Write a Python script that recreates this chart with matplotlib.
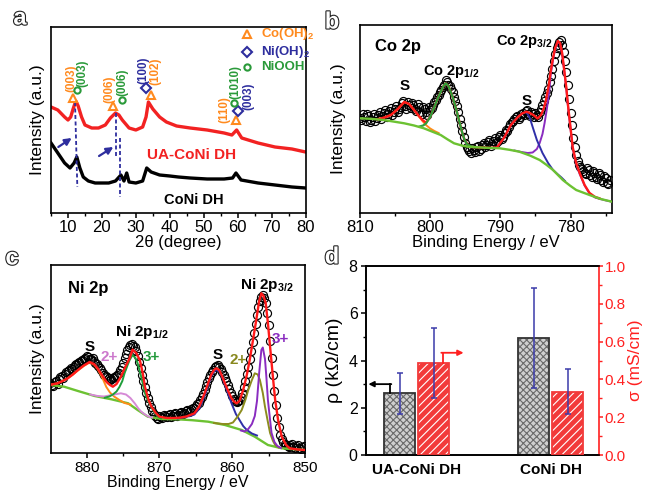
import matplotlib
matplotlib.use('Agg')
import matplotlib.pyplot as plt
import matplotlib.patheffects as pe
from matplotlib.ticker import MultipleLocator, FormatStrFormatter

plt.rcParams['font.family'] = ['Liberation Sans', 'DejaVu Sans']
plt.rcParams['mathtext.fontset'] = 'custom'
plt.rcParams['mathtext.rm'] = 'Liberation Sans'
plt.rcParams['mathtext.bf'] = 'Liberation Sans:bold'
plt.rcParams['mathtext.default'] = 'bf'
plt.rcParams['hatch.linewidth'] = 0.8

# ---------------- (a) XRD ----------------
xrd_ua_2theta = [5, 7, 9, 10, 10.8, 11.5, 12.3, 13, 14, 15, 17, 19, 21, 22.5, 24, 25, 26, 28, 30,
                 32, 33, 33.7, 35, 37, 39, 42, 46, 51, 56, 58.3, 59.7, 61.2, 66, 71, 76, 80]
xrd_ua_int = [106, 103, 96, 93, 96, 104, 112, 107, 96, 88, 85, 85, 88, 95, 100, 98, 93, 85, 83,
              86, 96, 111, 104, 96, 91, 87, 85, 83, 80, 78, 83, 75, 70, 66, 64, 61]
xrd_co_2theta = [5, 7, 9, 10.6, 11.8, 12.6, 13.5, 14.5, 16, 18, 20, 22, 24, 25.6, 26.5, 27.3, 28,
                 30, 32, 33.2, 34.5, 37, 40, 42.5, 46, 51, 56, 58.5, 59.5, 61, 66, 71, 76, 80]
xrd_co_int = [70, 60, 50, 45, 50, 56, 45, 36, 32, 30, 30, 30, 32, 38, 32, 40, 31,
              30, 32, 45, 41, 38, 37, 36, 35, 34, 34, 35, 40, 33, 30, 28, 26, 25]
coOH_x = [11.4, 23.2, 34.5, 59.5]
coOH_y = [115.3, 107, 117.7, 93]
niOH_x = [32.9, 60.2]
niOH_y = [124.7, 102.3]
niooh_x = [12.75, 26.0, 59.0]
niooh_y = [123, 113, 109.7]
hkl_labels = ['(003)', '(003)', '(006)', '(006)', '(100)', '(102)', '(110)', '(1010)', '(003)']
hkl_phase = ['co', 'ni2', 'co', 'ni2', 'ni', 'co', 'co', 'ni2', 'ni']

# ---------------- (b) Co 2p ----------------
b_data_E = [810.0, 809.6, 809.2, 808.8, 808.4, 808.0, 807.6, 807.2, 806.8, 806.4, 806.0, 805.6, 805.2,
            804.8, 804.4, 804.0, 803.6, 803.2, 802.8, 802.4, 802.0, 801.6, 801.2, 800.8, 800.4, 800.0,
            799.6, 799.2, 798.8, 798.4, 798.0, 797.6, 797.2, 796.8, 796.4, 796.0, 795.6, 795.2, 794.8,
            794.4, 794.0, 793.6, 793.2, 792.8, 792.4, 792.0, 791.6, 791.2, 790.8, 790.4, 790.0, 789.6,
            789.2, 788.8, 788.4, 788.0, 787.6, 787.2, 786.8, 786.4, 786.0, 785.6, 785.2, 784.8, 784.4,
            784.0, 783.6, 783.2, 782.8, 782.4, 782.0, 781.6, 781.2, 780.8, 780.4, 780.0, 779.6, 779.2,
            778.8, 778.4, 778.0, 777.6, 777.2, 776.8, 776.4, 776.0, 775.6, 775.2, 774.8, 774.4]
b_data_I = [95, 99, 92, 97, 93, 99, 95, 101, 97, 103, 99, 105, 101,
            107, 104, 110, 107, 111, 105, 108, 102, 106, 99, 104, 98, 103,
            108, 113, 118, 123, 128, 131, 127, 121, 112, 101, 88, 76, 66,
            62, 65, 61, 67, 64, 70, 68, 73, 69, 75, 72, 78, 76,
            83, 86, 91, 94, 97, 96, 100, 102, 99, 101, 96, 98, 101,
            108, 116, 124, 137, 152, 165, 171, 168, 152, 128, 100, 75, 58,
            48, 44, 40, 45, 38, 42, 36, 40, 33, 37, 30, 33]
b_data2_E = [809.8, 809.4, 809.0, 808.6, 808.2, 807.8, 807.4, 807.0, 806.6, 806.2, 805.8, 805.4, 805.0,
             804.6, 804.2, 803.8, 803.4, 803.0, 802.6, 802.2, 801.8, 801.4, 801.0, 800.6, 800.2, 799.8,
             799.4, 799.0, 798.6, 798.2, 797.8, 797.4, 797.0, 796.6, 796.2, 795.8, 795.4, 795.0, 794.6,
             794.2, 793.8, 793.4, 793.0, 792.6, 792.2, 791.8, 791.4, 791.0, 790.6, 790.2, 789.8, 789.4,
             789.0, 788.6, 788.2, 787.8, 787.4, 787.0, 786.6, 786.2, 785.8, 785.4, 785.0, 784.6, 784.2,
             783.8, 783.4, 783.0, 782.6, 782.2, 781.8, 781.4, 781.0, 780.6, 780.2, 779.8, 779.4, 779.0,
             778.6, 778.2, 777.8, 777.4, 777.0, 776.6, 776.2, 775.8, 775.4, 775.0, 774.6]
b_data2_I = [93, 96, 99, 91, 96, 92, 98, 94, 100, 96, 102, 98, 104,
             101, 106, 112, 104, 108, 110, 104, 109, 101, 106, 101, 106, 105,
             111, 116, 121, 126, 133, 128, 124, 116, 107, 94, 82, 70, 64,
             60, 63, 66, 62, 68, 66, 71, 67, 72, 70, 76, 74, 80,
             82, 89, 92, 96, 94, 99, 98, 103, 97, 99, 100, 96, 104,
             112, 120, 131, 144, 159, 168, 173, 161, 141, 114, 88, 66, 52,
             46, 42, 39, 43, 36, 40, 34, 38, 31, 35, 29]
b_bg_E = [810, 808.5, 806.6, 803.7, 802.3, 800.9, 798.5, 797.5, 796.6, 795.5, 794.7, 792.3, 790.1,
          788.7, 787.3, 785.8, 784.4, 783.4, 782.5, 781.1, 780.1, 779.2, 777.3, 775.7, 774.1]
b_bg_I = [94.7, 94.2, 93, 89.7, 87.5, 84.7, 78, 73.5, 69.7, 67.5, 66.3, 65.3, 64.7,
          63.2, 61.3, 57.5, 53, 48, 43, 33, 27.5, 23, 18, 14, 11.3]
b_env_E = [807.5, 806.5, 805.6, 804.6, 803.7, 803.0, 802.3, 801.6, 801.1, 800.6, 800.0, 799.4, 798.9,
           798.5, 798.1, 797.8, 797.4, 796.8, 796.3, 795.9, 795.5, 795.1, 794.4, 793.5, 792.5, 791.5,
           790.5, 789.5, 788.5, 787.5, 786.9, 786.3, 785.8, 785.3, 784.7, 784.2, 783.8, 783.5, 783.1,
           782.8, 782.5, 782.2, 781.8, 781.5, 781.2, 780.9, 780.6, 780.4, 780.0, 779.7, 779.2, 778.7,
           778.0, 777.3, 776.5, 775.9]
b_env_I = [93.8, 95.5, 98, 104, 111, 109, 103, 97, 93, 90.3, 96, 106, 115,
           121, 127, 129.7, 127, 116, 104, 93, 82, 73, 66.2, 65.8, 65.4, 65.1,
           65.5, 75, 88, 96, 99.5, 101.3, 100, 98, 94.5, 98, 105, 113, 128,
           143, 155, 165, 172, 170, 160, 143, 125, 110, 85, 66, 50, 40,
           28, 20, 16, 14.7]
b_s1_E = [807.5, 806.5, 805.6, 804.6, 803.7, 803.0, 802.3, 801.6, 801.1, 800.6, 800.0, 799.4, 798.8]
b_s1_I = [93.8, 95.5, 98, 104, 111, 109, 103, 96.5, 92, 88, 84.5, 82, 80]
b_p12_E = [801.5, 801.0, 800.6, 800.0, 799.4, 798.9, 798.5, 798.1, 797.8, 797.4, 796.8, 796.3, 795.9,
           795.5, 795.1, 794.7, 794.2, 793.5]
b_p12_I = [86.5, 87.5, 89.5, 96, 106, 115, 121, 127, 129.7, 127, 116, 104, 93,
           82, 73, 68.5, 66.5, 65.8]
b_s2_E = [791, 790.5, 789.5, 788.5, 787.5, 786.9, 786.3, 785.8, 785.4, 784.8, 784.0, 783.2, 782.5,
          781.8, 781.3, 780.8]
b_s2_I = [65, 65.5, 75, 88, 96, 99.5, 101, 95, 86, 73, 60, 50, 43, 38.5, 35.5, 32]
b_p32_E = [788, 787, 786.1, 785.4, 784.8, 784.4, 784.0, 783.7, 783.4, 783.2, 783.0, 782.8, 782.5,
           782.2, 781.8, 781.5, 781.2, 780.9, 780.6, 780.4, 780.0, 779.7, 779.2, 778.7, 778.0, 777.3,
           776.5, 775.9, 775.0, 774.1]
b_p32_I = [62.5, 61, 60, 60.5, 64, 70, 79, 90, 103, 113, 124, 140, 153,
           164, 171.5, 169, 159, 142, 124, 109, 84, 65, 49, 39, 27.5, 19.5,
           15.5, 14.2, 12.6, 11.2]

# ---------------- (c) Ni 2p ----------------
c_data_E = [885.0, 884.6, 884.2, 883.8, 883.4, 883.0, 882.6, 882.2, 881.8, 881.4, 881.0, 880.6, 880.2,
            879.8, 879.4, 879.0, 878.6, 878.2, 877.8, 877.4, 877.0, 876.6, 876.2, 875.8, 875.4, 875.0,
            874.6, 874.2, 873.8, 873.4, 873.0, 872.6, 872.2, 871.8, 871.4, 871.0, 870.6, 870.2, 869.8,
            869.4, 869.0, 868.6, 868.2, 867.8, 867.4, 867.0, 866.6, 866.2, 865.8, 865.4, 865.0, 864.6,
            864.2, 863.8, 863.4, 863.0, 862.6, 862.2, 861.8, 861.4, 861.0, 860.6, 860.2, 859.8, 859.4,
            859.0, 858.6, 858.2, 857.8, 857.4, 857.0, 856.6, 856.2, 855.8, 855.4, 855.0, 854.6, 854.2,
            853.8, 853.4, 853.0, 852.6, 852.2, 851.8, 851.4, 851.0, 850.6, 850.2]
c_data_I = [70, 67, 72, 74, 77, 79, 82, 85, 86, 89, 91, 93, 95,
            96, 94, 92, 89, 85, 80, 77, 75, 74, 76, 78, 83, 90,
            99, 106, 109, 106, 97, 85, 72, 60, 50, 42, 37, 34, 36,
            38, 36, 39, 37, 40, 38, 41, 40, 43, 42, 45, 47, 50,
            56, 63, 71, 78, 83, 87, 86, 81, 75, 68, 60, 54, 51,
            53, 60, 72, 86, 102, 120, 138, 152, 158, 150, 128, 95, 62,
            35, 18, 11, 8, 6, 9, 5, 8, 4, 7]
c_data2_E = [884.8, 884.4, 884.0, 883.6, 883.2, 882.8, 882.4, 882.0, 881.6, 881.2, 880.8, 880.4, 880.0,
             879.6, 879.2, 878.8, 878.4, 878.0, 877.6, 877.2, 876.8, 876.4, 876.0, 875.6, 875.2, 874.8,
             874.4, 874.0, 873.6, 873.2, 872.8, 872.4, 872.0, 871.6, 871.2, 870.8, 870.4, 870.0, 869.6,
             869.2, 868.8, 868.4, 868.0, 867.6, 867.2, 866.8, 866.4, 866.0, 865.6, 865.2, 864.8, 864.4,
             864.0, 863.6, 863.2, 862.8, 862.4, 862.0, 861.6, 861.2, 860.8, 860.4, 860.0, 859.6, 859.2,
             858.8, 858.4, 858.0, 857.6, 857.2, 856.8, 856.4, 856.0, 855.6, 855.2, 854.8, 854.4, 854.0,
             853.6, 853.2, 852.8, 852.4, 852.0, 851.6, 851.2, 850.8, 850.4]
c_data2_I = [68, 71, 69, 76, 75, 81, 83, 84, 88, 90, 92, 94, 97,
             94, 95, 90, 87, 83, 78, 76, 73, 75, 77, 80, 86, 95,
             103, 108, 107, 102, 91, 78, 66, 55, 46, 39, 35, 37, 35,
             37, 38, 36, 39, 37, 40, 39, 42, 41, 44, 45, 49, 53,
             59, 67, 75, 81, 86, 88, 84, 78, 72, 64, 57, 52, 52,
             56, 66, 79, 94, 111, 129, 146, 156, 155, 140, 112, 78, 48,
             26, 14, 9, 7, 8, 6, 7, 5, 6]
c_bg_E = [885, 883.1, 881.2, 878.9, 876.6, 874.3, 873.0, 871.6, 869.7, 867.5, 865.5, 863.3, 861.0,
          858.7, 856.9, 855.1, 853.2, 850]
c_bg_I = [68, 66.3, 62, 57, 53.7, 49.7, 43, 36.3, 34, 33.7, 32.8, 31.3, 28,
          23, 16.3, 8, 4.7, 3]
c_env_E = [884.8, 884.0, 883.3, 882.6, 881.9, 881.2, 880.4, 879.6, 879.0, 878.5, 877.9, 877.3, 876.8,
           876.4, 875.9, 875.3, 874.7, 874.1, 873.7, 873.2, 872.7, 872.3, 872.0, 871.5, 871.1, 870.5,
           870.0, 869.0, 868.0, 867.2, 866.3, 865.2, 864.5, 863.8, 863.3, 862.9, 862.5, 862.2, 861.8,
           861.4, 861.0, 860.5, 860.1, 859.7, 859.4, 859.0, 858.5, 858.0, 857.6, 857.1, 856.7, 856.3,
           856.0, 855.7, 855.4, 855.1, 854.8, 854.4, 854.1, 853.7, 853.2, 852.6, 852.1, 851.0, 850.0]
c_env_I = [68.5, 69.7, 72, 74.7, 78.5, 83, 87.5, 91, 89, 84.7, 78, 71.3, 68,
           66.3, 69, 76.3, 86, 94.7, 103.5, 100, 93, 80, 66.3, 53, 46.3, 40,
           36.3, 35, 35, 35.3, 36.5, 39.7, 47, 59.7, 70, 78, 83, 84.7, 83,
           77, 69.7, 61, 54.7, 51, 49.7, 52, 63, 78, 93, 115, 133, 152,
           159.7, 157, 149.7, 130, 106.3, 75, 53, 33, 16.3, 8, 4.7, 3.5, 3]
c_s1_E = [884.8, 884.0, 883.3, 882.6, 881.9, 881.2, 880.4, 879.6, 879.0, 878.5, 877.9, 877.3, 876.8,
          876.2, 875.5, 874.8, 874.0]
c_s1_I = [68.5, 69.7, 72, 74.7, 78.5, 82.5, 87, 90.5, 88.5, 84, 76, 66, 60.5, 56.3, 53, 50, 48.5]
c_2p_E = [879.5, 878.5, 877.6, 876.9, 876.2, 875.3, 874.6, 874.0, 873.4, 872.9, 872.5, 872.0, 871.5, 871.0]
c_2p_I = [58.5, 57, 56.5, 57.5, 58.5, 59.7, 58.5, 55, 49.7, 44.5, 41.3, 38.5, 36.3, 35.5]
c_3p_E = [877.5, 876.9, 876.4, 875.9, 875.5, 875.1, 874.8, 874.4, 874.1, 873.7, 873.3, 873.0, 872.6,
          872.3, 872.0, 871.7, 871.4, 870.9, 870.4, 869.8]
c_3p_I = [55.3, 56.5, 58.5, 61.5, 66, 72, 79.7, 87.5, 93, 98, 95, 89.7, 79,
          69.7, 60, 54, 49.7, 43, 38, 34.5]
c_s2_E = [867.5, 866.5, 865.8, 865.2, 864.5, 863.8, 863.3, 862.9, 862.5, 862.2, 861.8, 861.4, 861.0,
          860.5, 860.1, 859.5, 859.0, 858.5, 858.0, 857.3, 856.6]
c_s2_I = [34.5, 36, 37, 38.5, 45, 57, 68, 76.5, 81.5, 83, 81.5, 76, 68, 58, 49.7, 39, 33, 27, 23, 19.5, 17.5]
c_2p32_E = [862.5, 861.3, 860.5, 859.9, 859.3, 858.7, 858.2, 857.8, 857.3, 856.9, 856.5, 856.2, 855.8,
            855.5, 855.1, 854.8, 854.4, 854.1, 853.6]
c_2p32_I = [30, 29, 29, 30.5, 36, 43, 53, 63, 73, 79.7, 78.5, 73, 60, 46.3, 31, 20, 12, 8, 5.5]
c_3p32_E = [858.8, 858.3, 857.8, 857.3, 856.9, 856.6, 856.3, 856.0, 855.8, 855.5, 855.3, 855.1, 854.8,
            854.6, 854.2, 853.8, 853.3]
c_3p32_I = [22.5, 21.5, 24, 29, 37, 52, 80, 103, 105.5, 94, 75, 53, 33, 20, 11, 7, 5]

# ---------------- (d) resistivity / conductivity ----------------
d_samples = ['UA-CoNi DH', 'CoNi DH']
rho = [2.61, 4.95]
rho_err = [0.88, 2.11]
sigma = [0.488, 0.335]
sigma_err = [0.185, 0.12]

# ---------------- styling ----------------
RED = '#f22222'
ORANGE = '#ff8a1e'
NAVY = '#2e2e9e'
GREEN = '#2a9a3a'
BGGREEN = '#6cc232'
PHASE_COLORS = {'co': ORANGE, 'ni': NAVY, 'ni2': GREEN}

fig = plt.figure(figsize=(6.45, 4.91), dpi=100)
axa = fig.add_axes([0.0791, 0.5662, 0.3946, 0.3788])
axb = fig.add_axes([0.5581, 0.5662, 0.3907, 0.3829])
axc = fig.add_axes([0.0791, 0.0774, 0.3938, 0.3829])
axd = fig.add_axes([0.5674, 0.0733, 0.3612, 0.3849])

for ax in (axa, axb, axc, axd):
    for s in ax.spines.values():
        s.set_linewidth(1.2)
    ax.tick_params(axis='both', which='major', direction='out', length=3.5, width=1.1, labelsize=12,
                   pad=1.5)
    ax.tick_params(axis='both', which='minor', direction='out', length=2.5, width=1)
axc.tick_params(axis='x', which='major', labelsize=11, pad=2.5)


def panel_letter(x, y, s):
    t = fig.text(x, y, s, fontsize=17, color='white', ha='center', va='center',
                 fontweight='bold')
    t.set_path_effects([pe.withStroke(linewidth=1.6, foreground='#222222')])


# ----- (a)
axa.plot(xrd_ua_2theta, xrd_ua_int, color=RED, lw=2.4, zorder=2)
axa.plot(xrd_co_2theta, xrd_co_int, color='black', lw=2.4, zorder=2)
axa.set_xlim(5, 80)
axa.set_ylim(0, 186)
axa.set_yticks([])
axa.xaxis.set_major_locator(MultipleLocator(10))
axa.xaxis.set_minor_locator(MultipleLocator(5))
axa.set_xlabel('2θ (degree)', fontsize=12, labelpad=0)
axa.set_ylabel('Intensity (a.u.)', fontsize=12.5, labelpad=4)

dash = (0, (2.2, 1.4))
axa.plot([12.07, 12.75], [111, 26], color=NAVY, lw=1.3, ls=dash, zorder=3)
axa.plot([24.16, 24.16], [100, 56], color=NAVY, lw=1.3, ls=dash, zorder=3)
axa.plot([25.4, 25.4], [75, 16], color=NAVY, lw=1.3, ls=dash, zorder=3)
for (x0, y0, x1, y1) in [(7.15, 66, 11.1, 75), (19.15, 57, 23.36, 66)]:
    axa.annotate('', xy=(x1, y1), xytext=(x0, y0),
                 arrowprops=dict(arrowstyle='-|>', color=NAVY, lw=1.6, mutation_scale=10,
                                 shrinkA=0, shrinkB=0))

mk = dict(ls='none', mfc='white', mew=1.5, ms=5.5, zorder=4)
axa.plot(coOH_x, coOH_y, marker='^', mec=ORANGE, **mk)
axa.plot(niOH_x, niOH_y, marker='D', mec=NAVY, **dict(mk, ms=4.8))
axa.plot(niooh_x, niooh_y, marker='o', mec=GREEN, **dict(mk, ms=4.5))

hkl_pos = [(10.9, 134.7), (14.1, 139.7), (22.3, 123.8), (26.1, 130.5), (32.3, 143),
           (35.75, 141.3), (56.2, 103), (59.3, 131.3), (63.1, 116.3)]
for lab, ph, (x, y) in zip(hkl_labels, hkl_phase, hkl_pos):
    axa.text(x, y, lab, rotation=90, ha='center', va='center', fontsize=8.4,
             fontweight='bold', color=PHASE_COLORS[ph])

leg = [('^', ORANGE, 'Co(OH)$_2$', 0.962, 5.5), ('D', NAVY, 'Ni(OH)$_2$', 0.867, 4.8),
       ('o', GREEN, 'NiOOH', 0.787, 4.5)]
for m, c, lab, yy, ms in leg:
    axa.plot([0.769], [yy], marker=m, mec=c, mfc='white', mew=1.5, ms=ms,
             transform=axa.transAxes, clip_on=False)
    axa.text(0.825, yy, lab, color=c, fontsize=9.5, fontweight='bold', va='center',
             ha='left', transform=axa.transAxes)
axa.text(46.5, 58, 'UA-CoNi DH', color=RED, fontsize=11, fontweight='bold', ha='center', va='center')
axa.text(47.1, 13, 'CoNi DH', color='black', fontsize=10.5, fontweight='bold', ha='center', va='center')

# ----- (b)
cm = dict(ls='none', marker='o', mfc='none', mec='black', ms=5.8, mew=0.85, zorder=1)
axb.plot(b_data_E, b_data_I, **cm)
axb.plot(b_data2_E, b_data2_I, **cm)
axb.plot(b_p32_E, b_p32_I, color='#8a2cc0', lw=1.4, zorder=2)
axb.plot(b_s2_E, b_s2_I, color='#2f2fa8', lw=1.4, zorder=2)
axb.plot(b_s1_E, b_s1_I, color='#ff8c1a', lw=1.4, zorder=2)
axb.plot(b_env_E, b_env_I, color='#ff1a1a', lw=1.7, zorder=3)
axb.plot(b_p12_E, b_p12_I, color='#2f9e3a', lw=1.6, zorder=4)
axb.plot(b_bg_E, b_bg_I, color=BGGREEN, lw=1.7, zorder=5)
axb.set_xlim(810, 774.1)
axb.set_ylim(0, 188)
axb.set_yticks([])
axb.set_xticks([810, 800, 790, 780])
axb.xaxis.set_minor_locator(MultipleLocator(5))
axb.set_xlabel('Binding Energy / eV', fontsize=12, labelpad=0)
axb.set_ylabel('Intensity (a.u.)', fontsize=12.5, labelpad=10)
axb.text(0.06, 0.885, 'Co 2p', transform=axb.transAxes, fontsize=12, fontweight='bold',
         ha='left', va='center')
axb.text(803.7, 127, 'S', fontsize=11, fontweight='bold', ha='center', va='center')
axb.text(797.0, 141.3, 'Co 2p$_{1/2}$', fontsize=10.5, fontweight='bold', ha='center', va='center')
axb.text(786.3, 112, 'S', fontsize=11, fontweight='bold', ha='center', va='center')
axb.text(786.6, 171.3, 'Co 2p$_{3/2}$', fontsize=10.5, fontweight='bold', ha='center', va='center')

# ----- (c)
axc.plot(c_data_E, c_data_I, **cm)
axc.plot(c_data2_E, c_data2_I, **cm)
axc.plot(c_bg_E, c_bg_I, color=BGGREEN, lw=1.7, zorder=2)
axc.plot(c_s1_E, c_s1_I, color='#ff8c1a', lw=1.4, zorder=3)
axc.plot(c_2p_E, c_2p_I, color='#d68ad6', lw=1.4, zorder=3)
axc.plot(c_3p_E, c_3p_I, color='#1f9e3a', lw=1.4, zorder=3)
axc.plot(c_s2_E, c_s2_I, color='#2f2fa8', lw=1.4, zorder=3)
axc.plot(c_2p32_E, c_2p32_I, color='#8c8c1e', lw=1.4, zorder=3)
axc.plot(c_3p32_E, c_3p32_I, color='#8a2cc0', lw=1.4, zorder=3)
axc.plot(c_env_E, c_env_I, color='#ff1a1a', lw=1.7, zorder=4)
axc.set_xlim(884.9, 850)
axc.set_ylim(0, 188)
axc.set_yticks([])
axc.set_xticks([880, 870, 860, 850])
axc.xaxis.set_minor_locator(MultipleLocator(5))
axc.set_xlabel('Binding Energy / eV', fontsize=11.5, labelpad=0)
axc.set_ylabel('Intensity (a.u.)', fontsize=12.5, labelpad=4)
axc.text(0.068, 0.876, 'Ni 2p', transform=axc.transAxes, fontsize=12, fontweight='bold',
         ha='left', va='center')
axc.text(879.6, 105.7, 'S', fontsize=11, fontweight='bold', ha='center', va='center')
axc.text(876.9, 96.3, '2+', fontsize=11, fontweight='bold', ha='center', va='center', color='#cc77cc')
axc.text(872.4, 121.3, 'Ni 2p$_{1/2}$', fontsize=11, fontweight='bold', ha='center', va='center')
axc.text(871.1, 95.7, '3+', fontsize=11, fontweight='bold', ha='center', va='center', color='#22993a')
axc.text(862.0, 98, 'S', fontsize=11, fontweight='bold', ha='center', va='center')
axc.text(859.2, 93, '2+', fontsize=11, fontweight='bold', ha='center', va='center', color='#88881e')
axc.text(855.3, 168, 'Ni 2p$_{3/2}$', fontsize=11, fontweight='bold', ha='center', va='center')
axc.text(853.4, 113.7, '3+', fontsize=11, fontweight='bold', ha='center', va='center', color='#8a2cc0')

# ----- (d)
xpos = [0, 1]
w = 0.229
off = 0.127
ERR = '#3b3baa'
xg = [x - off for x in xpos]
xr = [x + off for x in xpos]
axd.bar(xg, rho, width=w, color='#cfcfcf', edgecolor='#6a6a6a', hatch='xxxxx', linewidth=0, zorder=2)
axd.bar(xg, rho, width=w, fill=False, edgecolor='#333333', linewidth=1.3, zorder=3)
axd.errorbar(xg, rho, yerr=rho_err, fmt='none', ecolor=ERR, elinewidth=1.1, capsize=2.5,
             capthick=1.1, zorder=4)
axd.set_xlim(-0.378, 1.36)
axd.set_ylim(0, 8)
axd.yaxis.set_major_locator(MultipleLocator(2))
axd.yaxis.set_minor_locator(MultipleLocator(1))
axd.set_xticks(xpos)
axd.set_xticklabels(d_samples, fontsize=11, fontweight='bold')
axd.tick_params(axis='x', length=0, pad=6)
axd.tick_params(axis='y', labelsize=11.5, pad=2.5)
axd.set_ylabel('ρ (kΩ/cm)', fontsize=14, labelpad=4)

axd2 = axd.twinx()
axd2.bar(xr, sigma, width=w, color='#f23a3a', edgecolor='white', hatch='////', linewidth=0, zorder=2)
axd2.bar(xr, sigma, width=w, fill=False, edgecolor='#f23a3a', linewidth=1.3, zorder=3)
axd2.errorbar(xr, sigma, yerr=sigma_err, fmt='none', ecolor=ERR, elinewidth=1.1, capsize=2.5,
              capthick=1.1, zorder=4)
axd2.set_ylim(0, 1.0)
axd2.yaxis.set_major_locator(MultipleLocator(0.2))
axd2.yaxis.set_minor_locator(MultipleLocator(0.1))
axd2.yaxis.set_major_formatter(FormatStrFormatter('%.1f'))
axd2.tick_params(axis='y', which='major', direction='out', length=3, width=1.1, colors='#ff2020',
                 labelsize=11, pad=1)
axd2.tick_params(axis='y', which='minor', direction='out', length=2, width=1, colors='#ff2020')
for s in axd2.spines.values():
    s.set_linewidth(1.2)
axd2.spines['right'].set_color('#ff2020')
axd.spines['right'].set_visible(False)
axd2.set_ylabel('σ (mS/cm)', fontsize=12.5, color='#ff2020', labelpad=1.5)

# indicator arrows
axd.plot([xg[0] - 0.072, xg[0] - 0.072], [rho[0], 3.0], color='black', lw=1.3, zorder=5)
axd.annotate('', xy=(-0.36, 3.0), xytext=(xg[0] - 0.072 + 0.01, 3.0),
             arrowprops=dict(arrowstyle='-|>', color='black', lw=1.3, mutation_scale=8,
                             shrinkA=0, shrinkB=0))
axd2.plot([xr[0] + 0.067, xr[0] + 0.067], [sigma[0], 0.541], color='#ff2020', lw=1.3, zorder=5)
axd2.annotate('', xy=(0.35, 0.541), xytext=(xr[0] + 0.067 - 0.01, 0.541),
              arrowprops=dict(arrowstyle='-|>', color='#ff2020', lw=1.3, mutation_scale=8,
                              shrinkA=0, shrinkB=0))

panel_letter(20 / 645, 1 - 18 / 491, 'a')
panel_letter(332 / 645, 1 - 22 / 491, 'b')
panel_letter(12 / 645, 1 - 258 / 491, 'c')
panel_letter(332 / 645, 1 - 257 / 491, 'd')

fig.savefig('out.png', dpi=100)
